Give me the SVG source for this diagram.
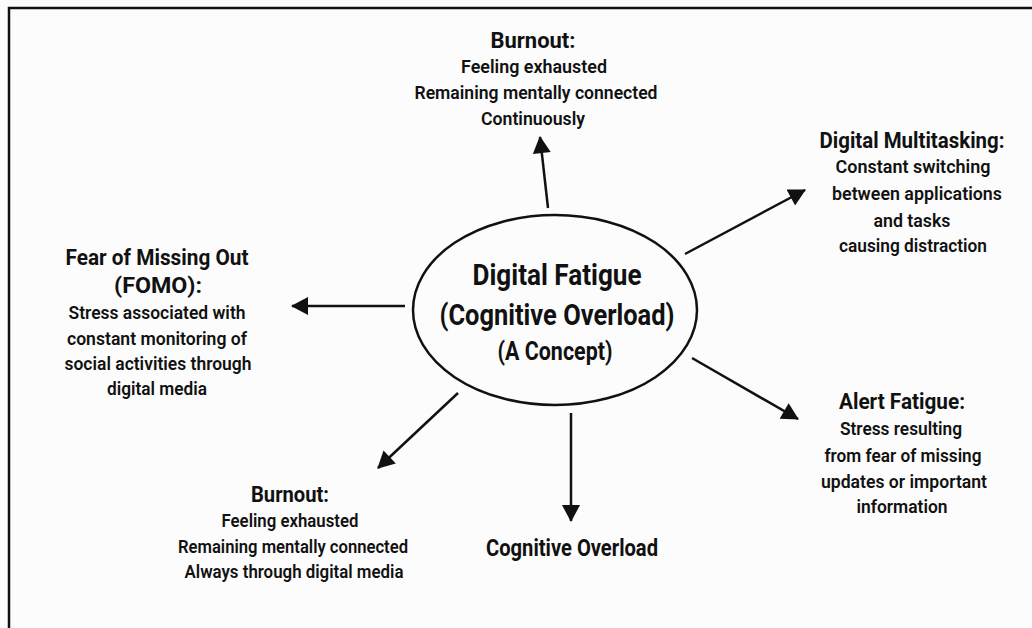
<svg xmlns="http://www.w3.org/2000/svg" width="1032" height="628" viewBox="0 0 1032 628">
<style>
text{font-family:Roboto,"Liberation Sans",sans-serif;fill:#111;text-anchor:middle}
.t{font-size:22px;font-weight:700}
.b{font-size:18px;font-weight:600}
.c{font-size:29px;font-weight:700}
.conn line{stroke:#111;stroke-width:2.5;marker-end:url(#ah)}
</style>
<defs>
<marker id="ah" markerUnits="userSpaceOnUse" markerWidth="18" markerHeight="18" viewBox="0 0 17 18" refX="16" refY="9" orient="auto">
<path d="M0,0 L17,9 L0,18 z" fill="#111"/>
</marker>
</defs>
<rect width="1032" height="628" fill="#fcfcfc"/>
<path d="M9,628 V8 H1032" fill="none" stroke="#111" stroke-width="2.5"/>
<g id="center">
<ellipse cx="555" cy="310" rx="142" ry="95" fill="none" stroke="#111" stroke-width="2.5"/>
<text class="c" x="557" y="285" textLength="169" lengthAdjust="spacingAndGlyphs">Digital Fatigue</text>
<text class="c" x="557" y="325" textLength="235" lengthAdjust="spacingAndGlyphs">(Cognitive Overload)</text>
<text x="555" y="360" style="font-size:25px;font-weight:700" textLength="115" lengthAdjust="spacingAndGlyphs">(A Concept)</text>
</g>
<g id="burnout-top">
<text class="t" x="533" y="48" textLength="85" lengthAdjust="spacingAndGlyphs">Burnout:</text>
<text class="b" x="534" y="73" textLength="146" lengthAdjust="spacingAndGlyphs">Feeling exhausted</text>
<text class="b" x="536" y="99" textLength="243" lengthAdjust="spacingAndGlyphs">Remaining mentally connected</text>
<text class="b" x="533" y="125" textLength="104" lengthAdjust="spacingAndGlyphs">Continuously</text>
</g>
<g id="multitasking">
<text class="t" x="912" y="148" textLength="185" lengthAdjust="spacingAndGlyphs">Digital Multitasking:</text>
<text class="b" x="913" y="173" textLength="155" lengthAdjust="spacingAndGlyphs">Constant switching</text>
<text class="b" x="917" y="200" textLength="170" lengthAdjust="spacingAndGlyphs">between applications</text>
<text class="b" x="912" y="227" textLength="77" lengthAdjust="spacingAndGlyphs">and tasks</text>
<text class="b" x="913" y="252" textLength="148" lengthAdjust="spacingAndGlyphs">causing distraction</text>
</g>
<g id="fomo">
<text class="t" x="157" y="265" textLength="183" lengthAdjust="spacingAndGlyphs">Fear of Missing Out</text>
<text class="t" x="158" y="293" textLength="88" lengthAdjust="spacingAndGlyphs">(FOMO):</text>
<text class="b" x="157" y="319" textLength="177" lengthAdjust="spacingAndGlyphs">Stress associated with</text>
<text class="b" x="157" y="345" textLength="180" lengthAdjust="spacingAndGlyphs">constant monitoring of</text>
<text class="b" x="158" y="370" textLength="187" lengthAdjust="spacingAndGlyphs">social activities through</text>
<text class="b" x="157" y="395" textLength="100" lengthAdjust="spacingAndGlyphs">digital media</text>
</g>
<g id="alert">
<text class="t" x="902" y="409" textLength="126" lengthAdjust="spacingAndGlyphs">Alert Fatigue:</text>
<text class="b" x="901" y="435" textLength="122" lengthAdjust="spacingAndGlyphs">Stress resulting</text>
<text class="b" x="903" y="462" textLength="157" lengthAdjust="spacingAndGlyphs">from fear of missing</text>
<text class="b" x="904" y="488" textLength="166" lengthAdjust="spacingAndGlyphs">updates or important</text>
<text class="b" x="902" y="513" textLength="91" lengthAdjust="spacingAndGlyphs">information</text>
</g>
<g id="burnout-bottom">
<text class="t" x="290" y="502" textLength="78" lengthAdjust="spacingAndGlyphs">Burnout:</text>
<text class="b" x="290" y="527" textLength="137" lengthAdjust="spacingAndGlyphs">Feeling exhausted</text>
<text class="b" x="293" y="553" textLength="230" lengthAdjust="spacingAndGlyphs">Remaining mentally connected</text>
<text class="b" x="294" y="578" textLength="219" lengthAdjust="spacingAndGlyphs">Always through digital media</text>
</g>
<g id="cognitive">
<text x="572" y="556" style="font-size:23px;font-weight:700" textLength="172" lengthAdjust="spacingAndGlyphs">Cognitive Overload</text>
</g>
<g id="connectors" class="conn">
<line x1="548" y1="208" x2="540" y2="137"/>
<line x1="685" y1="254" x2="805" y2="190"/>
<line x1="405" y1="306" x2="292" y2="306"/>
<line x1="692" y1="358" x2="798" y2="419"/>
<line x1="458" y1="393" x2="378" y2="468"/>
<line x1="571" y1="413" x2="571" y2="521"/>
</g>
</svg>
